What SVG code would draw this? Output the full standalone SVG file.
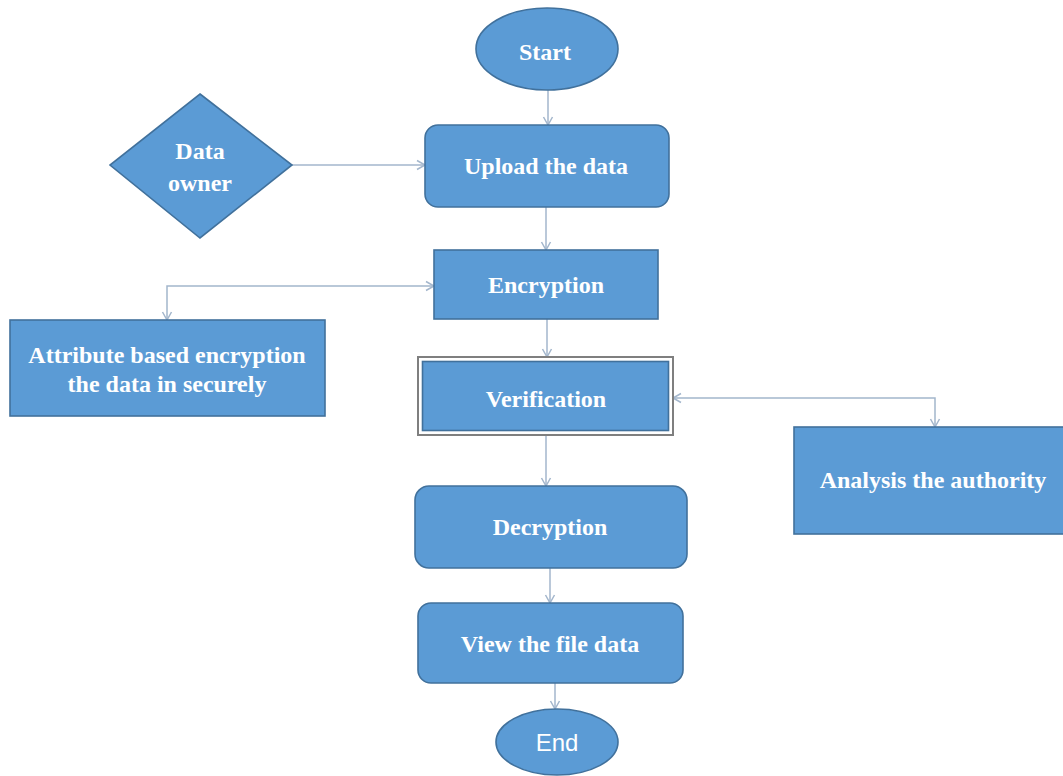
<svg xmlns="http://www.w3.org/2000/svg" width="1063" height="776" viewBox="0 0 1063 776">
<defs>
<style>
.shape{fill:#5b9bd5;stroke:#41719c;stroke-width:1.6}
.lbl{font-family:"Liberation Serif","Times New Roman",serif;font-weight:bold;font-size:24px;fill:#ffffff;text-anchor:middle}
.sans{font-family:"Liberation Sans",Arial,sans-serif;font-size:24px;fill:#ffffff;text-anchor:middle}
.conn{fill:none;stroke:#a3b6cc;stroke-width:1.5}
</style>
<marker id="arr" markerUnits="userSpaceOnUse" markerWidth="12" markerHeight="12" viewBox="0 0 12 12" refX="9" refY="6" orient="auto-start-reverse">
<path d="M1,1.5 L9,6 L1,10.5" fill="none" stroke="#a3b6cc" stroke-width="1.5"/>
</marker>
</defs>
<rect width="1063" height="776" fill="#ffffff"/>
<g id="connectors">
<path class="conn" d="M548,90 L548,125" marker-end="url(#arr)"/>
<path class="conn" d="M292,165 L425,165" marker-end="url(#arr)"/>
<path class="conn" d="M546,207 L546,250" marker-end="url(#arr)"/>
<path class="conn" d="M434,286 L167,286 L167,320" marker-start="url(#arr)" marker-end="url(#arr)"/>
<path class="conn" d="M547,319 L547,357" marker-end="url(#arr)"/>
<path class="conn" d="M673,398 L935,398 L935,427" marker-start="url(#arr)" marker-end="url(#arr)"/>
<path class="conn" d="M546,435 L546,486" marker-end="url(#arr)"/>
<path class="conn" d="M550,568 L550,603" marker-end="url(#arr)"/>
<path class="conn" d="M555,683 L555,709" marker-end="url(#arr)"/>
</g>
<g id="start">
<ellipse class="shape" cx="547" cy="49" rx="71" ry="41"/>
<text class="lbl" x="545" y="60">Start</text>
</g>
<g id="data-owner">
<polygon class="shape" points="200,94 292,165 200,238 110,165"/>
<text class="lbl" x="200" y="159">Data</text>
<text class="lbl" x="200" y="191">owner</text>
</g>
<g id="upload">
<rect class="shape" x="425" y="125" width="244" height="82" rx="13"/>
<text class="lbl" x="546" y="174">Upload the data</text>
</g>
<g id="encryption">
<rect class="shape" x="434" y="250" width="224" height="69"/>
<text class="lbl" x="546" y="293">Encryption</text>
</g>
<g id="attribute">
<rect class="shape" x="10" y="320" width="315" height="96"/>
<text class="lbl" x="167" y="363">Attribute based encryption</text>
<text class="lbl" x="167" y="392">the data in securely</text>
</g>
<g id="verification">
<rect x="418" y="357" width="255" height="78" fill="#ffffff" stroke="#7f7f7f" stroke-width="2"/>
<rect class="shape" x="422.5" y="361.5" width="246" height="69" stroke="#6d7f92" stroke-width="2"/>
<text class="lbl" x="546" y="407">Verification</text>
</g>
<g id="analysis">
<rect class="shape" x="794" y="427" width="275" height="107"/>
<text class="lbl" x="933" y="488">Analysis the authority</text>
</g>
<g id="decryption">
<rect class="shape" x="415" y="486" width="272" height="82" rx="14"/>
<text class="lbl" x="550" y="535">Decryption</text>
</g>
<g id="view">
<rect class="shape" x="418" y="603" width="265" height="80" rx="13"/>
<text class="lbl" x="550" y="652">View the file data</text>
</g>
<g id="end">
<ellipse class="shape" cx="557" cy="742" rx="61" ry="33"/>
<text class="sans" x="557" y="751">End</text>
</g>
</svg>
